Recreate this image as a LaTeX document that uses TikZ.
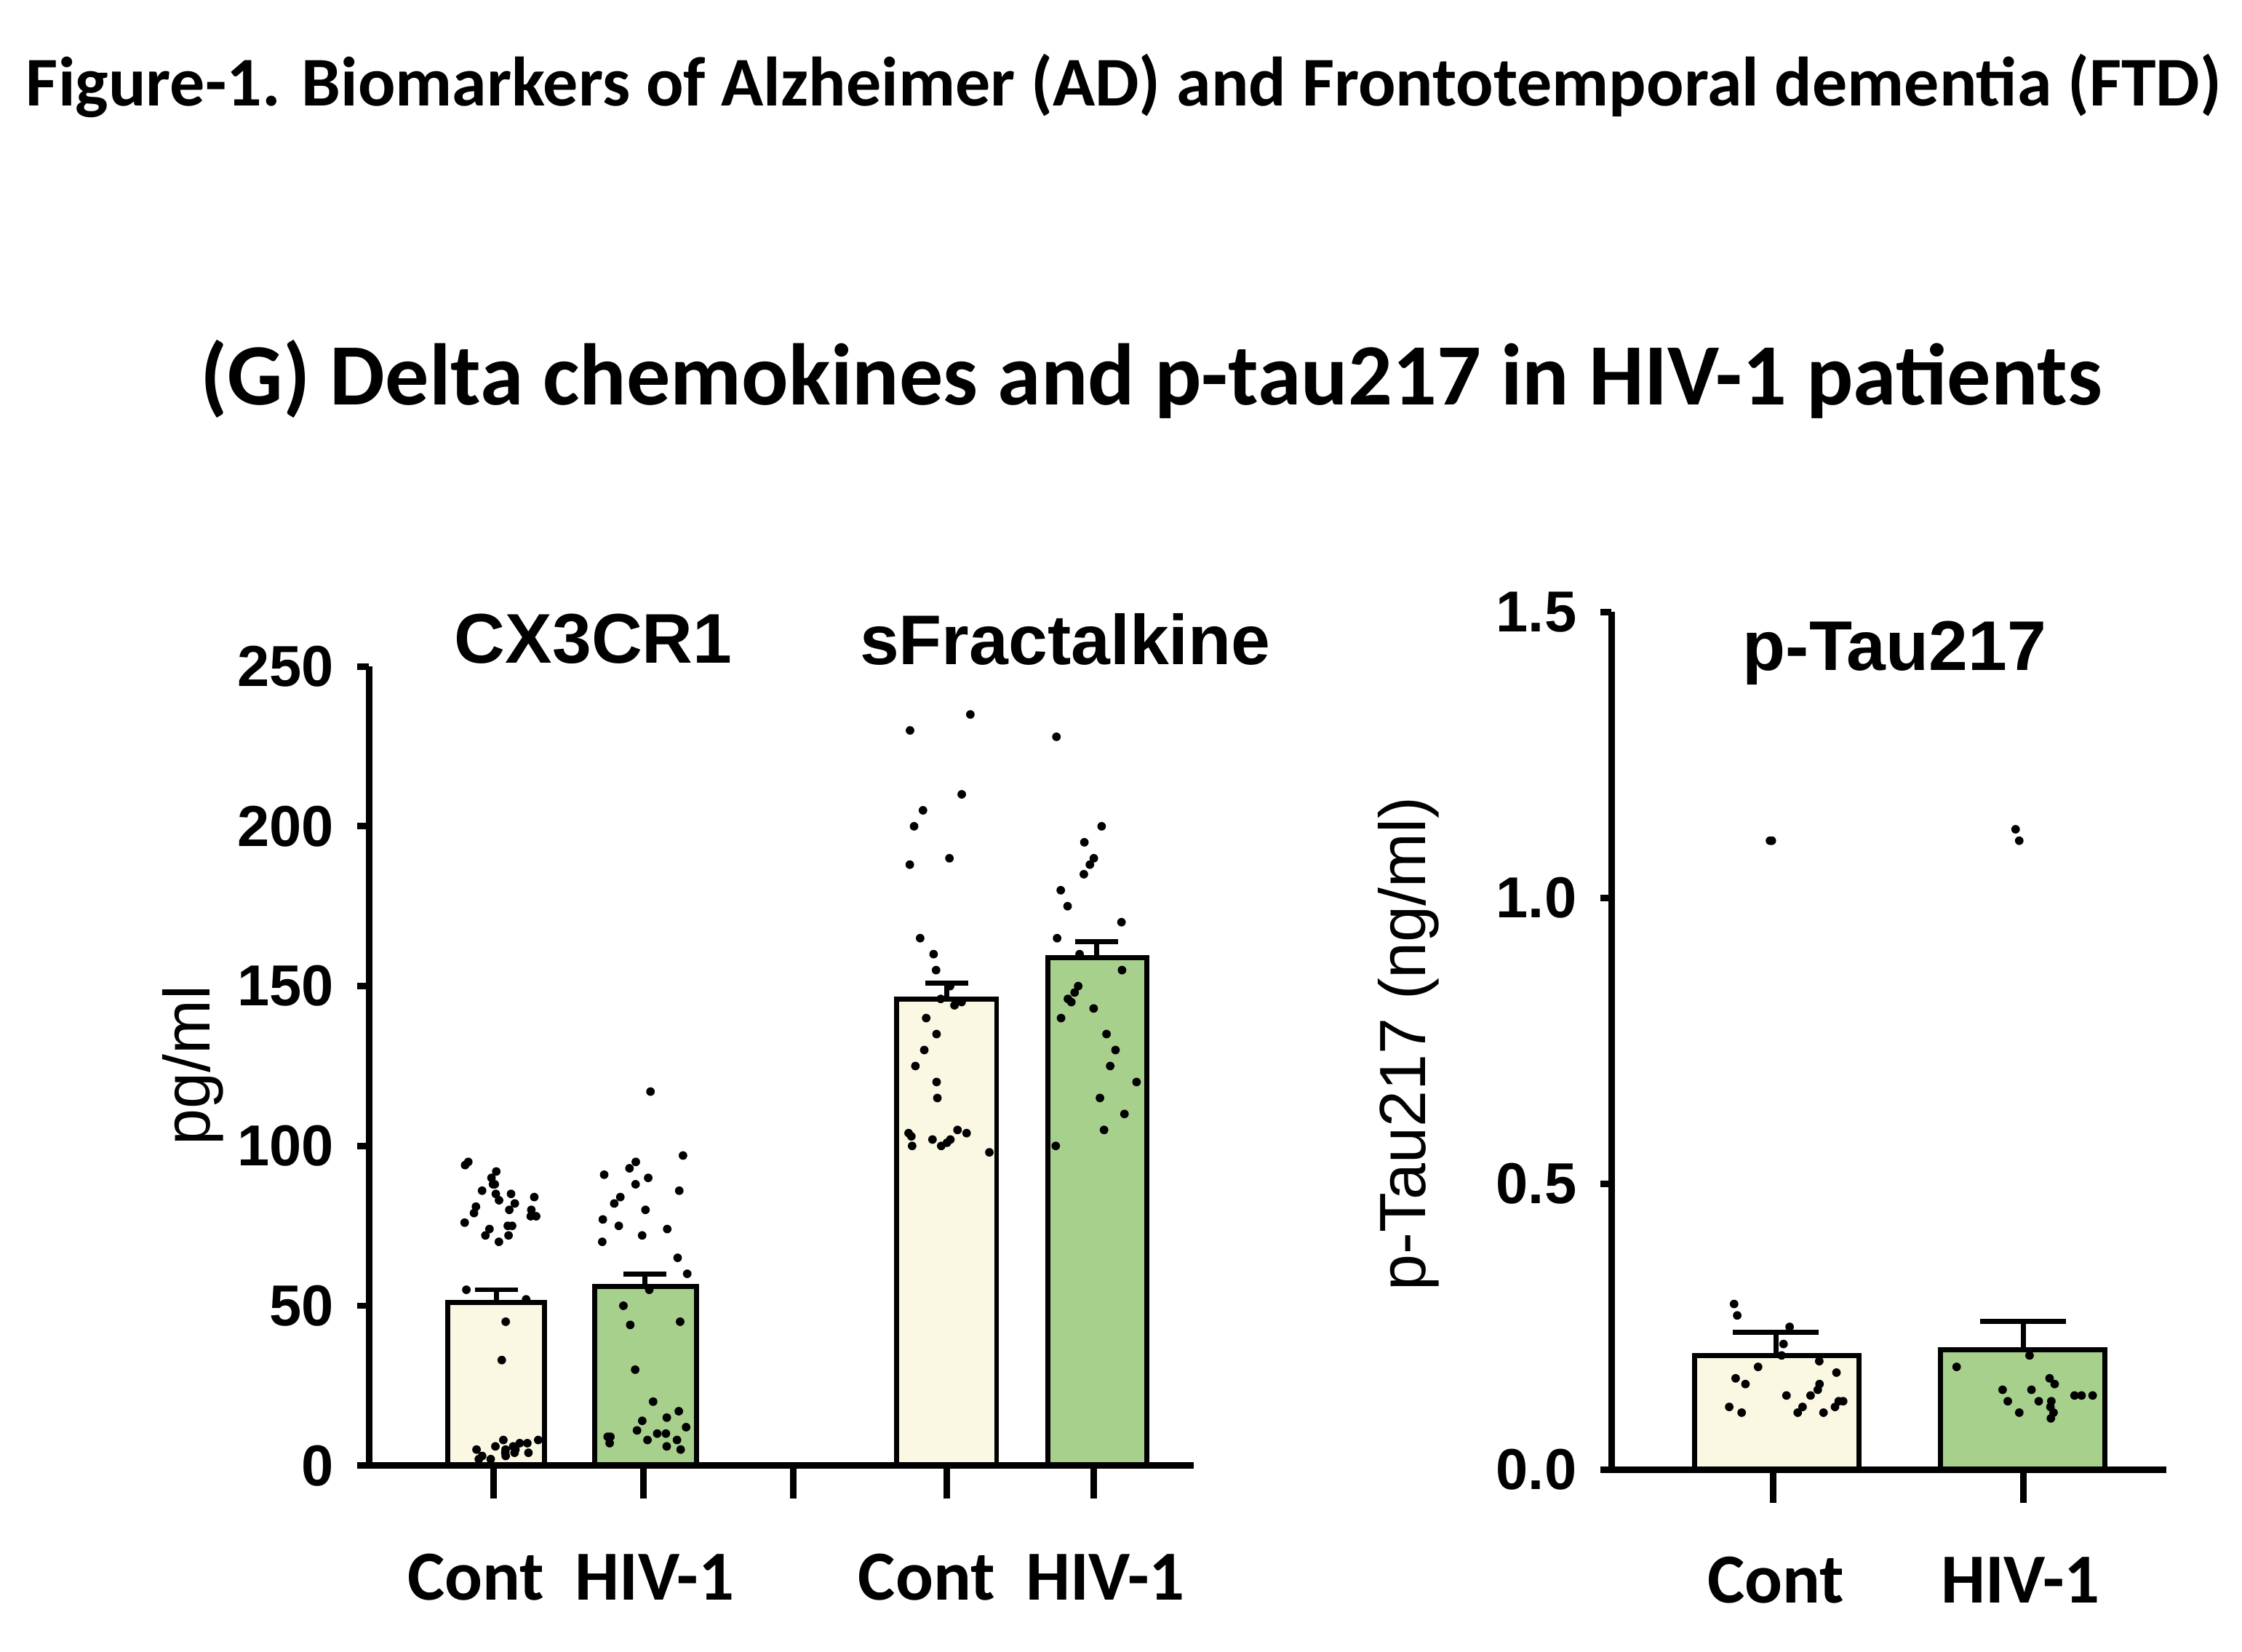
\documentclass[tikz,border=0pt]{standalone}
\usepackage{fontspec}
\setmainfont{Carlito}
\newfontfamily\arialfont{Liberation Sans}
\usetikzlibrary{positioning}
\definecolor{contfill}{HTML}{FAF8E2}
\definecolor{hivfill}{HTML}{A8D08D}
\tikzset{
  axis/.style={line width=1.3pt},
  bar cont/.style={fill=contfill,draw=black,line width=1pt},
  bar hiv/.style={fill=hivfill,draw=black,line width=1pt},
  errbar/.style={line width=1pt},
  ticklab/.style={font=\arialfont\bfseries\fontsize{11.5}{13}\selectfont,anchor=east},
  grouplab/.style={font=\bfseries\fontsize{14}{16}\selectfont},
  paneltitle/.style={font=\arialfont\bfseries\fontsize{14}{16}\selectfont},
  dot/.style={fill=black}
}
% y of left chart (pg/ml) and right chart (ng/ml)
\newcommand{\ya}[1]{1.30+(#1)*0.02236}
\newcommand{\yb}[1]{1.27+(#1)*4.0}
\newcommand{\scatterdots}[4]{% center x, jitter, y-macro, values
  \foreach \v in {#4} {\pgfmathsetmacro{\jx}{#1+#2*rand}\pgfmathsetmacro{\jy}{#3{\v}}\fill[dot] (\jx,\jy) circle (0.03);}}
\begin{document}
\begin{tikzpicture}
\pgfmathsetseed{7}
\useasboundingbox (0,0) rectangle (15.68,11.55);
\node[font=\bfseries\fontsize{13.9}{16}\selectfont] (fig) at (7.86,10.95) {Figure-1. Biomarkers of Alzheimer (AD) and Frontotemporal dementia (FTD)};
\node[font=\bfseries\fontsize{17.4}{20}\selectfont] (gtitle) at (8.05,8.90) {(G) Delta chemokines and p-tau217 in HIV-1 patients};

% left chart
\draw[bar cont] (3.13,1.30) rectangle (3.81,{\ya{51}});
\draw[bar hiv] (4.16,1.30) rectangle (4.87,{\ya{56}});
\draw[bar cont] (6.27,1.30) rectangle (6.97,{\ya{146}});
\draw[bar hiv] (7.33,1.30) rectangle (8.02,{\ya{159}});
\foreach \cx/\m/\s in {3.47/51/4,4.51/56/4,6.62/146/5,7.67/159/5}
  \draw[errbar] (\cx,{\ya{\m}}) -- (\cx,{\ya{\m+\s}}) (\cx-0.15,{\ya{\m+\s}}) -- (\cx+0.15,{\ya{\m+\s}});
\scatterdots{3.47}{0.3}{\ya}{2,3,4,5,5,6,7,8,3,4,6,2,5,7,4,8,33,45,52,55,70,72,74,75,76,78,79,80,81,82,83,84,85,86,88,90,92,94,95,80,75,78,85,88,72}
\scatterdots{4.51}{0.3}{\ya}{5,6,7,8,9,10,10,11,12,9,8,15,20,14,17,30,44,45,50,55,60,65,70,72,74,75,77,80,82,84,86,88,90,91,93,95,97,117}
\scatterdots{6.62}{0.3}{\ya}{98,100,101,102,103,104,105,100,102,104,115,120,125,130,135,140,144,145,146,150,155,160,165,188,190,200,205,210,230,235}
\scatterdots{7.67}{0.3}{\ya}{100,105,110,115,120,125,130,135,140,143,145,146,148,150,155,160,165,170,175,180,185,188,190,195,200,228}
\draw[axis] (2.58,{\ya{250}}) -- (2.58,1.30) -- (8.35,1.30);
\foreach \v in {0,50,...,250} {
  \draw[axis] (2.50,{\ya{\v}}) -- (2.58,{\ya{\v}});
  \node[ticklab] at (2.46,{\ya{\v}}) {\v};}
\foreach \x in {3.45,4.50,5.55,6.62,7.65} \draw[axis] (\x,1.30) -- (\x,1.07);
\node[font=\arialfont\fontsize{13}{15}\selectfont,rotate=90] (ylabA) at (1.35,4.10) {pg/ml};
\node[paneltitle] (cx) at (4.15,7.08) {CX3CR1};
\node[paneltitle] (sf) at (7.45,7.08) {sFractalkine};
\node[grouplab] (c1) at (3.33,0.52) {Cont};
\node[grouplab] (h1) at (4.58,0.52) {HIV-1};
\node[grouplab] (c2) at (6.48,0.52) {Cont};
\node[grouplab] (h2) at (7.73,0.52) {HIV-1};

% right chart
\draw[bar cont] (11.85,1.27) rectangle (13.00,{\yb{0.20}});
\draw[bar hiv] (13.57,1.27) rectangle (14.72,{\yb{0.21}});
\foreach \cx/\m/\s in {12.42/0.20/0.04,14.15/0.21/0.05}
  \draw[errbar] (\cx,{\yb{\m}}) -- (\cx,{\yb{\m+\s}}) (\cx-0.3,{\yb{\m+\s}}) -- (\cx+0.3,{\yb{\m+\s}});
\scatterdots{12.42}{0.5}{\yb}{0.1,0.1,0.11,0.11,0.12,0.12,0.13,0.14,0.15,0.1,0.11,0.13,0.15,0.16,0.17,0.18,0.19,0.2,0.22,0.25,0.27,0.29}
\scatterdots{14.15}{0.5}{\yb}{0.09,0.1,0.1,0.11,0.12,0.12,0.13,0.13,0.14,0.14,0.12,0.13,0.15,0.16,0.18,0.2}
\scatterdots{12.42}{0.06}{\yb}{1.1,1.1}
\scatterdots{14.15}{0.06}{\yb}{1.1,1.12}
\draw[axis] (11.27,{\yb{1.5}}) -- (11.27,1.27) -- (15.15,1.27);
\foreach \v in {0.0,0.5,1.0,1.5} {
  \draw[axis] (11.19,{\yb{\v}}) -- (11.27,{\yb{\v}});
  \node[ticklab] at (11.15,{\yb{\v}}) {\v};}
\foreach \x in {12.40,14.15} \draw[axis] (\x,1.27) -- (\x,1.04);
\node[font=\arialfont\fontsize{13}{15}\selectfont,rotate=90] (ylabB) at (9.85,4.25) {p-Tau217 (ng/ml)};
\node[paneltitle] (pt) at (13.25,6.98) {p-Tau217};
\node[grouplab] (c3) at (12.42,0.50) {Cont};
\node[grouplab] (h3) at (14.13,0.50) {HIV-1};
\end{tikzpicture}
\end{document}
